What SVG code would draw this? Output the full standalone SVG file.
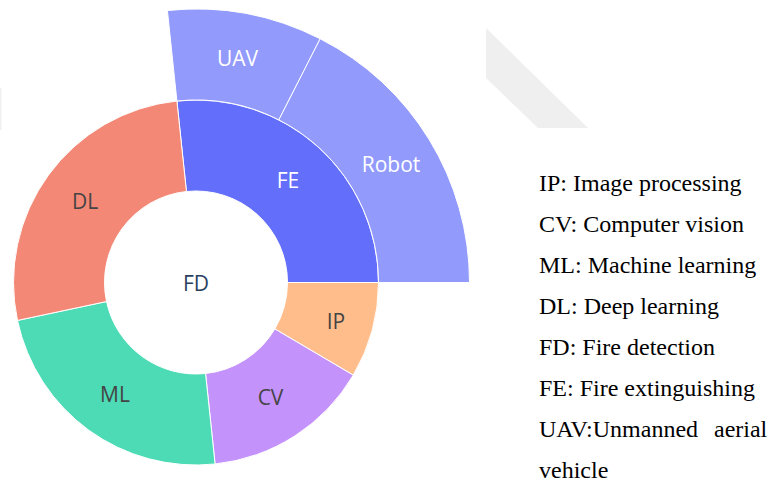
<svg xmlns="http://www.w3.org/2000/svg" width="776" height="483" viewBox="0 0 776 483">
  <style>
    .seg { stroke: #ffffff; stroke-width: 1; }
    .lbl { font-family: "Open Sans", "Liberation Sans", sans-serif; font-size: 21px; text-anchor: middle; }
    .dark { fill: #444444; }
    .light { fill: #ffffff; }
    .root { fill: #2a3f5f; }
    .key { font-family: "Liberation Serif", "Times New Roman", serif; font-size: 24px; fill: #000000; }
  </style>

  <rect width="776" height="483" fill="#ffffff"/>

  <!-- faint background marks -->
  <polygon points="486,28 588,128 538,128 486,78" fill="#efefef"/>
  <rect x="0" y="88" width="1.5" height="42" fill="#f0f0f0"/>

  <!-- root -->
  <g id="node-FD">
    <circle cx="196" cy="282.5" r="91.5" fill="#ffffff"/>
    <text class="lbl root" x="196" y="291">FD</text>
  </g>

  <!-- first ring -->
  <g id="node-FE">
    <path class="seg" fill="#636efa" d="M186.44 191.50 L176.92 101.00 A182.5 182.5 0 0 1 378.5 282.5 L287.5 282.5 A91.5 91.5 0 0 0 186.44 191.50 Z"/>
    <text class="lbl light" x="288" y="188">FE</text>
  </g>
  <g id="node-IP">
    <path class="seg" fill="#ffbd8c" d="M287.5 282.5 L378.5 282.5 A182.5 182.5 0 0 1 353.25 375.13 L274.84 328.94 A91.5 91.5 0 0 0 287.5 282.5 Z"/>
    <text class="lbl dark" x="336" y="329">IP</text>
  </g>
  <g id="node-CV">
    <path class="seg" fill="#c492fb" d="M274.84 328.94 L353.25 375.13 A182.5 182.5 0 0 1 215.08 464.00 L205.56 373.50 A91.5 91.5 0 0 0 274.84 328.94 Z"/>
    <text class="lbl dark" x="270.5" y="405">CV</text>
  </g>
  <g id="node-ML">
    <path class="seg" fill="#4ddbb6" d="M205.56 373.50 L215.08 464.00 A182.5 182.5 0 0 1 17.49 320.44 L106.50 301.52 A91.5 91.5 0 0 0 205.56 373.50 Z"/>
    <text class="lbl dark" x="115" y="402">ML</text>
  </g>
  <g id="node-DL">
    <path class="seg" fill="#f48876" d="M106.50 301.52 L17.49 320.44 A182.5 182.5 0 0 1 176.92 101.00 L186.44 191.50 A91.5 91.5 0 0 0 106.50 301.52 Z"/>
    <text class="lbl dark" x="85" y="209">DL</text>
  </g>

  <!-- second ring, children of FE -->
  <g id="node-UAV">
    <path class="seg" fill="#929afb" d="M176.92 101.00 L167.41 10.50 A273.5 273.5 0 0 1 320.17 38.81 L278.85 119.89 A182.5 182.5 0 0 0 176.92 101.00 Z"/>
    <text class="lbl light" x="237.5" y="66">UAV</text>
  </g>
  <g id="node-Robot">
    <path class="seg" fill="#929afb" d="M278.85 119.89 L320.17 38.81 A273.5 273.5 0 0 1 469.5 282.5 L378.5 282.5 A182.5 182.5 0 0 0 278.85 119.89 Z"/>
    <text class="lbl light" x="391" y="171.5">Robot</text>
  </g>

  <!-- abbreviation key -->
  <g id="key">
    <text class="key" x="539" y="191">IP: Image processing</text>
    <text class="key" x="539" y="232">CV: Computer vision</text>
    <text class="key" x="539" y="273">ML: Machine learning</text>
    <text class="key" x="539" y="314">DL: Deep learning</text>
    <text class="key" x="539" y="355">FD: Fire detection</text>
    <text class="key" x="539" y="396">FE: Fire extinguishing</text>
    <text class="key" x="539" y="437">UAV:Unmanned<tspan x="714">aerial</tspan></text>
    <text class="key" x="539" y="478">vehicle</text>
  </g>
</svg>
